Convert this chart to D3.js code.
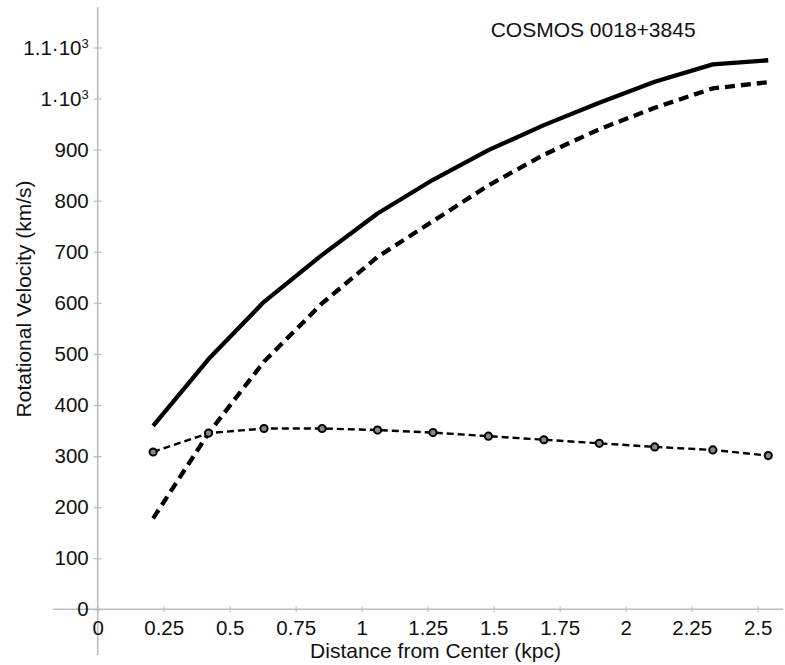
<!DOCTYPE html>
<html>
<head>
<meta charset="utf-8">
<script src="https://cdn.jsdelivr.net/npm/d3@7"></script>
<style>
  body { margin: 0; background: #fff; }
  svg { display: block; font-family: "Liberation Sans", Arial, sans-serif; }
</style>
</head>
<body>
<svg id="chart" width="785" height="665"></svg>
<script>
// radius in kpc for each sample
const radius = [0.21, 0.42, 0.63, 0.85, 1.06, 1.27, 1.48, 1.69, 1.90, 2.11, 2.33, 2.54];
// rotational velocities (km/s)
const totalVel   = [359, 490, 602, 694, 775, 841, 899, 948, 992, 1033, 1067, 1075];
const darkVel    = [178, 345, 485, 599, 690, 760, 830, 890, 940, 982, 1020, 1032];
const visibleVel = [308, 345, 354, 354, 351, 346, 339, 332, 325, 318, 312, 301];

const xTicks = [0, 0.25, 0.5, 0.75, 1, 1.25, 1.5, 1.75, 2, 2.25, 2.5];
const xTickLabels = ["0", "0.25", "0.5", "0.75", "1", "1.25", "1.5", "1.75", "2", "2.25", "2.5"];
const yTicks = [0, 100, 200, 300, 400, 500, 600, 700, 800, 900, 1000, 1100];
const yTickLabels = ["0", "100", "200", "300", "400", "500", "600", "700", "800", "900", "1·10|3", "1.1·10|3"];

const title = "COSMOS 0018+3845";
const xTitle = "Distance from Center (kpc)";
const yTitle = "Rotational Velocity (km/s)";

let svg = d3.select("#chart");
let axisColor = "#bdbdbd";

let x = d3.scaleLinear().domain([0, 2.5]).range([97.7, 757.7]);
let y = d3.scaleLinear().domain([0, 1100]).range([609.3, 47.5]);

// axis lines (extend past the plotting range like the original)
svg.append("line")
    .attr("x1", x(0)).attr("x2", x(0))
    .attr("y1", 7).attr("y2", 655)
    .attr("stroke", axisColor).attr("stroke-width", 1.6);
svg.append("line")
    .attr("x1", 53).attr("x2", 783)
    .attr("y1", y(0)).attr("y2", y(0))
    .attr("stroke", axisColor).attr("stroke-width", 1.6);

// y axis
let yAxis = svg.append("g")
    .attr("transform", `translate(${x(0)},0)`)
    .call(d3.axisLeft(y).tickValues(yTicks).tickSize(0).tickPadding(9).tickFormat(() => ""));
yAxis.select(".domain").remove();
yAxis.selectAll(".tick").append("line")
    .attr("x1", -4).attr("x2", 4)
    .attr("stroke", axisColor).attr("stroke-width", 1.2);
yAxis.selectAll(".tick text")
    .attr("font-size", 20.5)
    .attr("fill", "#111")
    .attr("font-family", "Liberation Sans, Arial, sans-serif")
    .each(function(d, i) {
        let parts = yTickLabels[i].split("|");
        let t = d3.select(this);
        t.append("tspan").text(parts[0]);
        if (parts.length > 1) {
            t.append("tspan")
                .attr("font-size", 13)
                .attr("dy", -7)
                .text(parts[1]);
        }
    });

// x axis
let xAxis = svg.append("g")
    .attr("transform", `translate(0,${y(0)})`)
    .call(d3.axisBottom(x).tickValues(xTicks).tickSize(0).tickPadding(11)
        .tickFormat((d, i) => xTickLabels[i]));
xAxis.select(".domain").remove();
xAxis.selectAll(".tick").append("line")
    .attr("y1", -3).attr("y2", 3)
    .attr("stroke", axisColor).attr("stroke-width", 1.2);
xAxis.selectAll(".tick text")
    .attr("font-size", 20.5)
    .attr("fill", "#111")
    .attr("font-family", "Liberation Sans, Arial, sans-serif");

// axis titles
svg.append("text")
    .attr("x", 435.5).attr("y", 658)
    .attr("text-anchor", "middle")
    .attr("font-size", 21)
    .attr("fill", "#111")
    .text(xTitle);
svg.append("text")
    .attr("transform", `translate(31,299) rotate(-90)`)
    .attr("text-anchor", "middle")
    .attr("font-size", 21)
    .attr("fill", "#111")
    .text(yTitle);

// chart title
svg.append("text")
    .attr("x", 490.7).attr("y", 37)
    .attr("font-size", 21)
    .attr("fill", "#111")
    .text(title);

// lines
let line = d3.line()
    .x(d => x(d[0]))
    .y(d => y(d[1]));

svg.append("path")
    .datum(d3.zip(radius, totalVel))
    .attr("fill", "none")
    .attr("stroke", "#000")
    .attr("stroke-width", 4.3)
    .attr("stroke-linejoin", "round")
    .attr("d", line);

svg.append("path")
    .datum(d3.zip(radius, darkVel))
    .attr("fill", "none")
    .attr("stroke", "#000")
    .attr("stroke-width", 4.3)
    .attr("stroke-dasharray", "10,6")
    .attr("d", line);

svg.append("path")
    .datum(d3.zip(radius, visibleVel))
    .attr("fill", "none")
    .attr("stroke", "#000")
    .attr("stroke-width", 2.4)
    .attr("stroke-dasharray", "7,4")
    .attr("d", line);

svg.append("g")
    .selectAll("circle")
    .data(d3.zip(radius, visibleVel))
    .join("circle")
        .attr("cx", d => x(d[0]))
        .attr("cy", d => y(d[1]))
        .attr("r", 3.6)
        .attr("fill", "#888")
        .attr("stroke", "#000")
        .attr("stroke-width", 2);
</script>
</body>
</html>
